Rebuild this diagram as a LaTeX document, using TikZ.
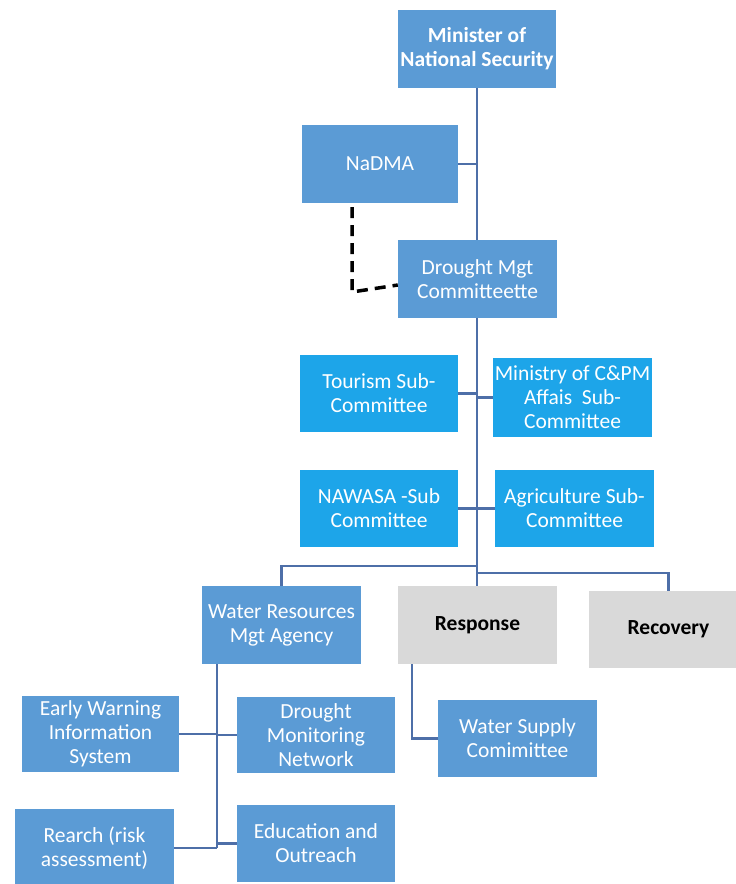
\documentclass[tikz,border=0pt]{standalone}
\usepackage{fontspec}
\setmainfont{Carlito}
\definecolor{boxblue}{HTML}{5B9BD5}
\definecolor{boxcyan}{HTML}{1DA5E9}
\definecolor{boxgrey}{HTML}{D9D9D9}
\definecolor{linkblue}{HTML}{4E6FA8}
\begin{document}
\begin{tikzpicture}[x=1pt,y=-1pt,
  box/.style={rectangle, draw=none, inner sep=0pt, align=center, text=white,
    font=\fontsize{21.5}{24}\selectfont},
  bluebox/.style={box, fill=boxblue},
  cyanbox/.style={box, fill=boxcyan},
  greybox/.style={box, fill=boxgrey, text=black, font=\fontsize{21.5}{24}\selectfont\bfseries},
  link/.style={draw=linkblue, line width=2.2pt},
  dashlink/.style={draw=black, line width=3.5pt, dash pattern=on 11pt off 7pt}]
\clip (0,0) rectangle (736,884);
\fill[white] (0,0) rectangle (736,884);

\node[bluebox, minimum width=158pt, minimum height=78pt, font=\fontsize{21.5}{24}\selectfont\bfseries] (min) at (477,49) {Minister of\\National Security};
\node[bluebox, minimum width=156pt, minimum height=78pt] (nadma) at (380,164) {NaDMA};
\node[bluebox, minimum width=159pt, minimum height=78pt] (dmc) at (477.5,279) {Drought Mgt\\Committeette};

\node[cyanbox, minimum width=158pt, minimum height=77pt] (tour) at (379,393.5) {Tourism Sub-\\Committee};
\node[cyanbox, minimum width=159pt, minimum height=79pt] (cpm) at (572.5,397.5) {Ministry of C\&PM\\Affais\ \ Sub-\\Committee};
\node[cyanbox, minimum width=158pt, minimum height=77pt] (nawasa) at (379,508.5) {NAWASA -Sub\\Committee};
\node[cyanbox, minimum width=159pt, minimum height=77pt] (agri) at (574.5,508.5) {Agriculture Sub-\\Committee};

\node[bluebox, minimum width=159pt, minimum height=78pt] (wrma) at (281.5,625) {Water Resources\\Mgt Agency};
\node[greybox, minimum width=159pt, minimum height=78pt] (resp) at (477.5,625) {Response};
\node[greybox, minimum width=159pt, minimum height=77pt] (recov) at (668.5,629.5) {Recovery};

\node[bluebox, minimum width=157pt, minimum height=76pt] (ew) at (100.5,734) {Early Warning\\Information\\System};
\node[bluebox, minimum width=158pt, minimum height=76pt] (dmn) at (316,735) {Drought\\Monitoring\\Network};
\node[bluebox, minimum width=159pt, minimum height=77pt] (ws) at (517.5,738.5) {Water Supply\\Comimittee};
\node[bluebox, minimum width=159pt, minimum height=78pt] (rearch) at (94.5,848) {Rearch (risk\\assessment)};
\node[bluebox, minimum width=158pt, minimum height=77pt] (edu) at (316,843.5) {Education and\\Outreach};

% main trunk
\coordinate (tx) at (477,0);
\draw[link] (min.south -| tx) -- (dmc.north -| tx);
\draw[link] (nadma.east) -- (nadma.east -| tx);
\draw[link] (dmc.south -| tx) -- (resp.north -| tx);
\draw[link] (tour.east) -- (tour.east -| tx);
\draw[link] (cpm.west) -- (cpm.west -| tx);
\draw[link] (nawasa.east) -- (nawasa.east -| tx);
\draw[link] (agri.west) -- (agri.west -| tx);
% branches to bottom row
\coordinate (bl) at (477,566);
\coordinate (br) at (477,573);
\draw[link] (bl) -- (bl -| wrma.north) -- (wrma.north);
\draw[link] (br) -- (br -| recov.north) -- (recov.north);
% dashed link
\coordinate (d1) at (352,207);
\coordinate (d2) at (352,292);
\draw[dashlink] (d1) -- (d2) -- ([yshift=-6pt]dmc.west);
% water resources branch
\coordinate (wx) at (217,0);
\draw[link] (wrma.south -| wx) -- (rearch.east -| wx);
\draw[link] (ew.east) -- (ew.east -| wx);
\draw[link] (dmn.west) -- (dmn.west -| wx);
\draw[link] (rearch.east) -- (rearch.east -| wx);
\draw[link] (edu.west) -- (edu.west -| wx);
% response branch
\coordinate (rx) at (412,0);
\draw[link] (resp.south -| rx) -- (ws.west -| rx) -- (ws.west);
\end{tikzpicture}
\end{document}
